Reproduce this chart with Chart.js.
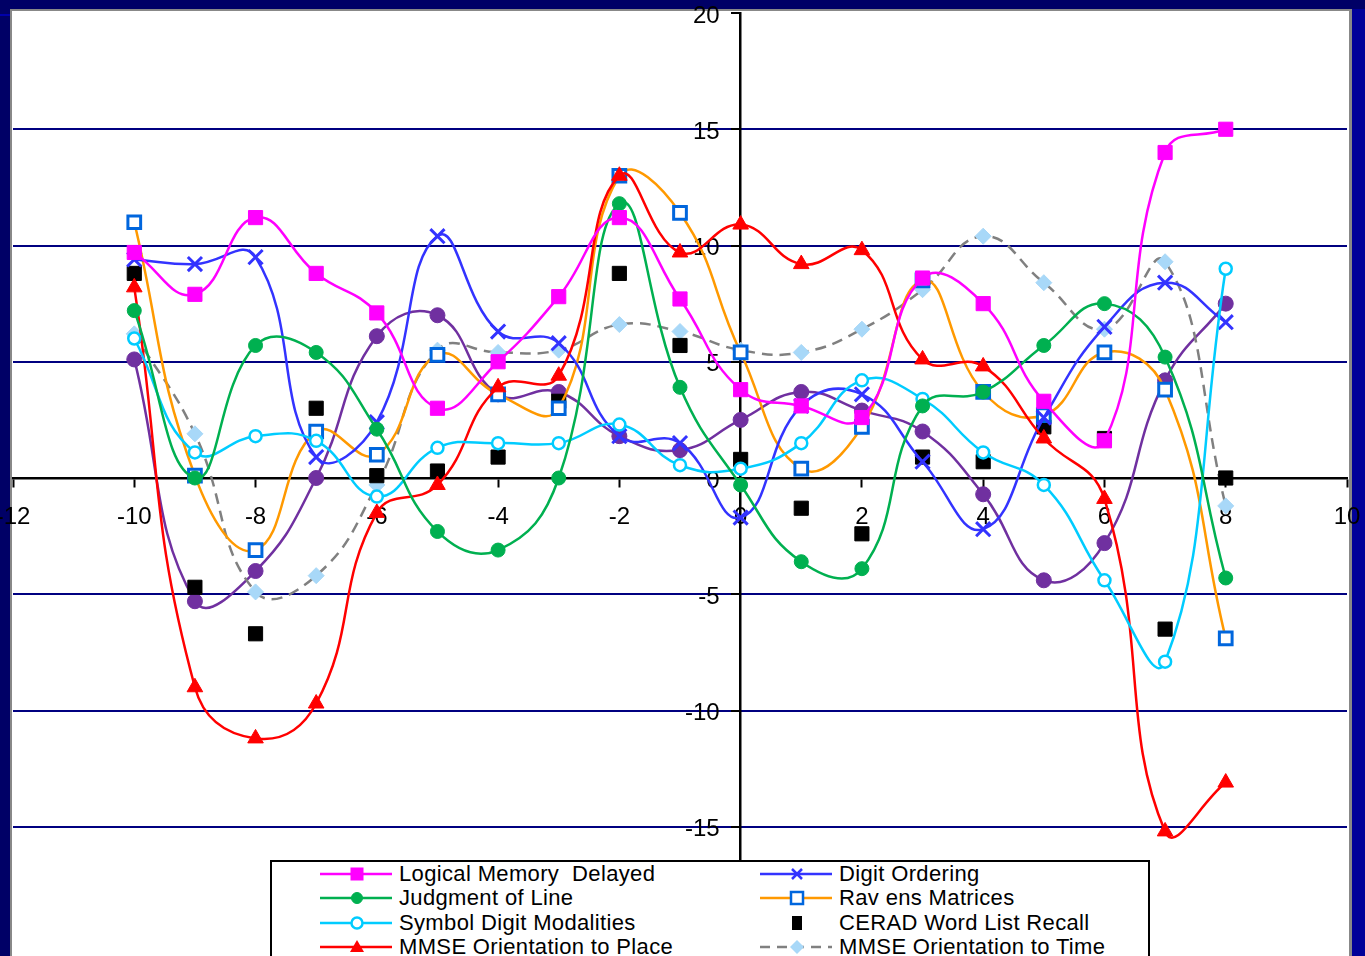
<!DOCTYPE html>
<html lang="en">
<head>
  <meta charset="UTF-8" />
  <title>Cognitive test scores</title>
  <script src="https://cdn.jsdelivr.net/npm/chart.js"></script>
  <style>
    body {
      margin: 0;
      background: #000066;
      overflow: hidden;
      font-family: Arial, 'Liberation Sans', sans-serif;
    }
    #wrap {
      position: relative;
      width: 1365px;
      height: 956px;
    }
    #legend {
      position: absolute;
      left: 270px;
      top: 860px;
      width: 876px;
      height: 110px;
      background: #fff;
      border: 2px solid #000;
    }
    .item {
      position: absolute;
      height: 24px;
      line-height: 24px;
      font-size: 22px;
      letter-spacing: 0.35px;
      color: #000;
      white-space: pre;
    }
    .item svg {
      position: absolute;
      left: 0;
      top: 0;
    }
    .item span {
      position: absolute;
      left: 79px;
      top: 0;
    }
  </style>
</head>
<body>
  <div id="wrap">
    <canvas id="chart" width="1365" height="956"></canvas>
    <div id="legend"></div>
  </div>

  <script>
    const xValues = [-10, -9, -8, -7, -6, -5, -4, -3, -2, -1, 0, 1, 2, 3, 4, 5, 6, 7, 8];

    const logicalMemory = [9.7, 7.9, 11.2, 8.8, 7.1, 3.0, 5.0, 7.8, 11.2, 7.7, 3.8, 3.1, 2.6, 8.6, 7.5, 3.3, 1.6, 14.0, 15.0];
    const digitOrdering = [9.4, 9.2, 9.5, 0.9, 2.4, 10.4, 6.3, 5.8, 1.8, 1.5, -1.7, 3.1, 3.6, 0.7, -2.2, 2.6, 6.5, 8.4, 6.7];
    const judgmentLine = [7.2, 0.0, 5.7, 5.4, 2.1, -2.3, -3.1, 0.0, 11.8, 3.9, -0.3, -3.6, -3.9, 3.1, 3.7, 5.7, 7.5, 5.2, -4.3];
    const ravens = [11.0, 0.1, -3.1, 2.0, 1.0, 5.3, 3.6, 3.0, 13.0, 11.4, 5.4, 0.4, 2.2, 8.5, 3.7, 2.7, 5.4, 3.8, -6.9];
    const symbolDigit = [6.0, 1.1, 1.8, 1.6, -0.8, 1.3, 1.5, 1.5, 2.3, 0.55, 0.4, 1.5, 4.2, 3.4, 1.1, -0.3, -4.4, -7.9, 9.0];
    const ceradRecall = [8.8, -4.7, -6.7, 3.0, 0.1, 0.3, 0.9, 3.3, 8.8, 5.7, 0.8, -1.3, -2.4, 0.9, 0.7, 2.2, 1.7, -6.5, 0.0];
    const mmsePlace = [8.2, -9.0, -11.2, -9.7, -1.5, -0.3, 3.9, 4.4, 13.0, 9.7, 10.9, 9.2, 9.8, 5.1, 4.8, 1.7, -0.9, -15.2, -13.1];
    const mmseTime = [6.2, 1.9, -4.9, -4.2, -0.3, 5.5, 5.4, 5.5, 6.6, 6.3, 5.5, 5.4, 6.4, 8.1, 10.4, 8.4, 6.4, 9.3, -1.2];
    const unlabeled = [5.1, -5.3, -4.0, 0.0, 6.1, 7.0, 3.6, 3.7, 1.8, 1.2, 2.5, 3.7, 2.9, 2.0, -0.7, -4.4, -2.8, 4.2, 7.5];

    const xTickMin = -12, xTickMax = 10, xTickStep = 2;
    const yTickMin = -20, yTickMax = 20, yTickStep = 5;

    function pts(values) {
      return values.map((v, i) => ({ x: xValues[i], y: v }));
    }

    const series = [
      { label: 'Logical Memory  Delayed', data: logicalMemory, line: '#ff00ff', fill: '#ff00ff', edge: '#ff00ff',
        style: 'rect', radius: 10, bw: 1, col: 0, row: 0 },
      { label: 'Judgment of Line', data: judgmentLine, line: '#00b050', fill: '#00b050', edge: '#00b050',
        style: 'circle', radius: 7, bw: 1, col: 0, row: 1 },
      { label: 'Symbol Digit Modalities', data: symbolDigit, line: '#00ccff', fill: '#ffffff', edge: '#00ccff',
        style: 'circle', radius: 6, bw: 2.5, col: 0, row: 2 },
      { label: 'MMSE Orientation to Place', data: mmsePlace, line: '#ff0000', fill: '#ff0000', edge: '#ff0000',
        style: 'triangle', radius: 9, bw: 1, col: 0, row: 3 },
      { label: 'Digit Ordering', data: digitOrdering, line: '#3333ff', fill: '#3333ff', edge: '#3333ff',
        style: 'crossRot', radius: 10, bw: 3, col: 1, row: 0 },
      { label: 'Rav ens Matrices', data: ravens, line: '#ff9900', fill: '#ffffff', edge: '#0066dd',
        style: 'rect', radius: 9, bw: 3, col: 1, row: 1 },
      { label: 'CERAD Word List Recall', data: ceradRecall, line: null, fill: '#000000', edge: '#000000',
        style: 'rect', radius: 10, bw: 1, col: 1, row: 2 },
      { label: 'MMSE Orientation to Time', data: mmseTime, line: '#808080', fill: '#a8d8f8', edge: '#a8d8f8',
        style: 'rectRot', radius: 8, bw: 1, col: 1, row: 3, dash: [11, 7] },
      { label: '', data: unlabeled, line: '#7030a0', fill: '#7030a0', edge: '#7030a0',
        style: 'circle', radius: 7.5, bw: 1, col: -1 }
    ];

    const datasets = series.map(s => ({
      label: s.label,
      data: pts(s.data),
      showLine: s.line !== null,
      borderColor: s.line || s.edge,
      borderWidth: 2.5,
      borderDash: s.dash || [],
      tension: 0.45,
      pointStyle: s.style,
      pointRadius: s.radius,
      pointBackgroundColor: s.fill,
      pointBorderColor: s.edge,
      pointBorderWidth: s.bw,
      clip: 2
    }));

    const tickFont = { family: "Arial, 'Liberation Sans', sans-serif", size: 24 };

    // navy slide frame behind everything, labels are allowed to spill over it
    const frame = {
      id: 'frame',
      beforeDraw(chart) {
        const c = chart.ctx;
        c.save();
        c.fillStyle = '#000066';
        c.fillRect(0, 0, chart.width, chart.height);
        c.fillStyle = '#000099';
        c.fillRect(1352, 9, chart.width - 1352, chart.height);
        c.fillStyle = '#0000aa';
        c.fillRect(0, 14, 10, 2);
        c.fillStyle = '#888888';
        c.fillRect(10, 9, 1342, chart.height);
        c.fillStyle = '#ffffff';
        c.fillRect(12, 11, 1337, chart.height);
        c.restore();
      }
    };

    // y labels go left of the centred axis (chart.js puts them on top of it)
    const yLabels = {
      id: 'yLabels',
      beforeDatasetsDraw(chart) {
        const ys = chart.scales.y;
        const ax = chart.scales.x.getPixelForValue(0);
        const c = chart.ctx;
        c.save();
        c.font = `${tickFont.size}px ${tickFont.family}`;
        c.fillStyle = '#000';
        c.textAlign = 'right';
        c.textBaseline = 'middle';
        ys.ticks.forEach(t => {
          c.fillText(String(t.value), ax - 21, ys.getPixelForValue(t.value) + 3);
        });
        c.restore();
      }
    };

    new Chart(document.getElementById('chart'), {
      type: 'scatter',
      data: { datasets },
      plugins: [frame, yLabels],
      options: {
        responsive: false,
        animation: false,
        devicePixelRatio: 1,
        layout: { padding: { left: 12, right: 18, top: 10, bottom: 2 } },
        plugins: { legend: { display: false }, tooltip: { enabled: false } },
        scales: {
          x: {
            type: 'linear',
            position: { y: 0 },
            min: xTickMin,
            max: xTickMax,
            ticks: { stepSize: xTickStep, color: '#000', font: tickFont, padding: 17, maxRotation: 0, autoSkip: false },
            grid: { drawOnChartArea: false, drawTicks: true, tickLength: 8, tickColor: '#000', tickWidth: 2 },
            border: { display: true, color: '#000', width: 2.5 },
            afterFit(scale) { scale.paddingLeft = 0; scale.paddingRight = 0; }
          },
          y: {
            type: 'linear',
            position: { x: 0 },
            min: yTickMin,
            max: yTickMax,
            ticks: { stepSize: yTickStep, display: false },
            grid: {
              drawTicks: true,
              tickLength: 8,
              tickColor: '#000',
              tickWidth: 2,
              lineWidth: 2,
              color: ctx => {
                const v = ctx.tick ? ctx.tick.value : 0;
                return (v === 0 || v === yTickMin || v === yTickMax) ? 'rgba(0,0,0,0)' : '#000080';
              }
            },
            border: { display: true, color: '#000', width: 2.5 },
            afterFit(scale) { scale.paddingTop = 0; scale.paddingBottom = 0; }
          }
        }
      }
    });

    // legend drawn as html, two columns like the original
    function markerSvg(s) {
      const cx = 37, cy = 12;
      let line = '';
      if (s.line) {
        const dash = s.dash ? ' stroke-dasharray="10 7"' : '';
        line = `<line x1="0" y1="${cy}" x2="72" y2="${cy}" stroke="${s.line}" stroke-width="2.5"${dash}/>`;
      }
      let m = '';
      const r = 6;
      if (s.style === 'rect' && s.line === null) {
        m = `<rect x="${cx - 5}" y="${cy - 7}" width="10" height="14" fill="${s.fill}"/>`;
      } else if (s.style === 'rect') {
        m = `<rect x="${cx - r}" y="${cy - r}" width="${2 * r}" height="${2 * r}" fill="${s.fill}" stroke="${s.edge}" stroke-width="${s.bw > 2 ? 2.5 : 1}"/>`;
      } else if (s.style === 'circle') {
        m = `<circle cx="${cx}" cy="${cy}" r="${r - 0.5}" fill="${s.fill}" stroke="${s.edge}" stroke-width="${s.bw > 2 ? 2.5 : 1}"/>`;
      } else if (s.style === 'triangle') {
        m = `<polygon points="${cx},${cy - 7} ${cx + 7},${cy + 5} ${cx - 7},${cy + 5}" fill="${s.fill}"/>`;
      } else if (s.style === 'crossRot') {
        m = `<path d="M${cx - 5} ${cy - 5} L${cx + 5} ${cy + 5} M${cx + 5} ${cy - 5} L${cx - 5} ${cy + 5}" stroke="${s.edge}" stroke-width="2.5"/>`;
      } else if (s.style === 'rectRot') {
        m = `<polygon points="${cx},${cy - 7} ${cx + 7},${cy} ${cx},${cy + 7} ${cx - 7},${cy}" fill="${s.fill}"/>`;
      }
      return `<svg width="76" height="24">${line}${m}</svg>`;
    }

    const legendEl = document.getElementById('legend');
    const colLeft = [48, 488];
    series.filter(s => s.col >= 0).forEach(s => {
      const div = document.createElement('div');
      div.className = 'item';
      div.style.left = colLeft[s.col] + 'px';
      div.style.top = (0 + s.row * 24.4) + 'px';
      div.innerHTML = markerSvg(s) + `<span>${s.label}</span>`;
      legendEl.appendChild(div);
    });
  </script>
</body>
</html>
